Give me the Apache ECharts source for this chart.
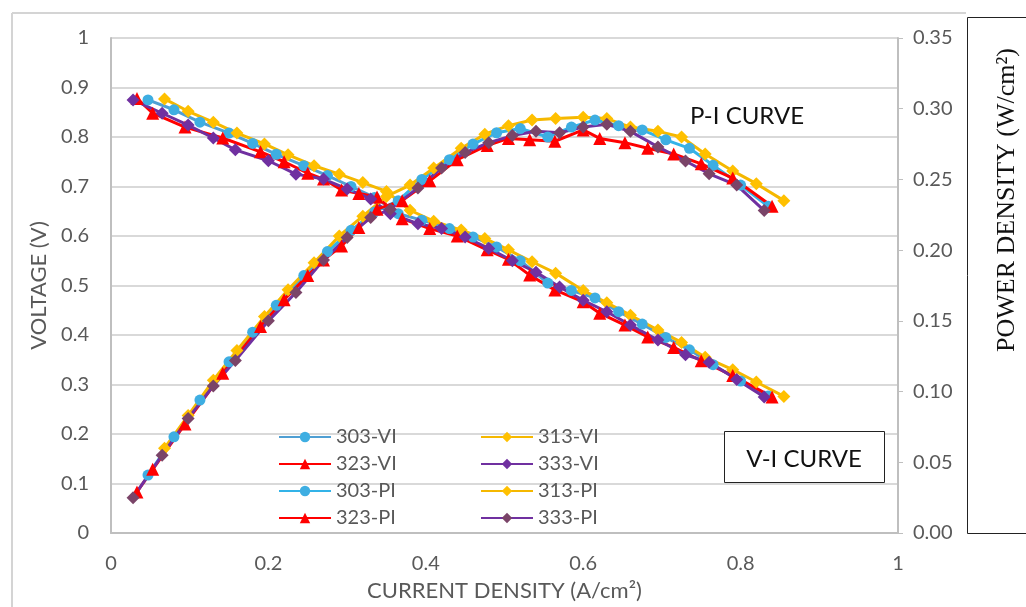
<!DOCTYPE html>
<html>
<head>
<meta charset="utf-8">
<script src="https://cdn.jsdelivr.net/npm/echarts@6/dist/echarts.min.js"></script>
<style>
  html, body { margin: 0; padding: 0; background: #fff; }
  #chart { width: 1026px; height: 607px; }
</style>
</head>
<body>
<div id="chart"></div>
<script>
// current density (A/cm2) for each temperature run
var x303 = [0.047, 0.08, 0.113, 0.15, 0.18, 0.21, 0.245, 0.275, 0.305, 0.335, 0.365, 0.395, 0.43, 0.46, 0.49, 0.52, 0.555, 0.585, 0.615, 0.645, 0.675, 0.705, 0.735, 0.765, 0.80, 0.835];
var x313 = [0.068, 0.098, 0.13, 0.16, 0.195, 0.225, 0.258, 0.29, 0.32, 0.35, 0.38, 0.41, 0.445, 0.475, 0.505, 0.535, 0.565, 0.6, 0.63, 0.66, 0.695, 0.725, 0.755, 0.79, 0.82, 0.855];
var x323 = [0.033, 0.053, 0.094, 0.142, 0.19, 0.22, 0.25, 0.27, 0.293, 0.315, 0.338, 0.37, 0.405, 0.44, 0.478, 0.505, 0.532, 0.564, 0.6, 0.621, 0.653, 0.682, 0.715, 0.75, 0.79, 0.84];
var x333 = [0.028, 0.065, 0.098, 0.13, 0.158, 0.2, 0.235, 0.27, 0.3, 0.33, 0.355, 0.39, 0.42, 0.45, 0.48, 0.51, 0.54, 0.57, 0.6, 0.63, 0.66, 0.695, 0.73, 0.76, 0.795, 0.83];

// voltage (V)
var v303 = [0.875, 0.855, 0.83, 0.808, 0.787, 0.765, 0.742, 0.722, 0.70, 0.678, 0.645, 0.632, 0.615, 0.598, 0.578, 0.55, 0.505, 0.49, 0.475, 0.447, 0.422, 0.395, 0.37, 0.34, 0.307, 0.277];
var v313 = [0.877, 0.852, 0.83, 0.808, 0.786, 0.764, 0.742, 0.725, 0.708, 0.69, 0.652, 0.63, 0.612, 0.595, 0.572, 0.548, 0.525, 0.49, 0.465, 0.44, 0.41, 0.385, 0.355, 0.33, 0.305, 0.276];
var v323 = [0.878, 0.848, 0.82, 0.798, 0.77, 0.75, 0.727, 0.715, 0.693, 0.686, 0.679, 0.635, 0.615, 0.6, 0.572, 0.553, 0.521, 0.491, 0.467, 0.444, 0.42, 0.396, 0.375, 0.348, 0.318, 0.275];
var v333 = [0.875, 0.848, 0.824, 0.798, 0.774, 0.752, 0.725, 0.715, 0.695, 0.675, 0.645, 0.625, 0.615, 0.598, 0.575, 0.55, 0.527, 0.497, 0.47, 0.447, 0.42, 0.39, 0.36, 0.345, 0.31, 0.275];

// power density (W/cm2)
var p303 = [0.041, 0.068, 0.094, 0.121, 0.142, 0.161, 0.182, 0.199, 0.214, 0.227, 0.235, 0.25, 0.264, 0.275, 0.283, 0.286, 0.280, 0.287, 0.292, 0.288, 0.285, 0.278, 0.272, 0.260, 0.246, 0.231];
var p313 = [0.06, 0.083, 0.108, 0.129, 0.153, 0.172, 0.191, 0.21, 0.224, 0.238, 0.246, 0.258, 0.272, 0.282, 0.288, 0.292, 0.293, 0.294, 0.293, 0.287, 0.284, 0.28, 0.268, 0.256, 0.247, 0.235];
var p323 = [0.029, 0.045, 0.077, 0.113, 0.146, 0.165, 0.182, 0.193, 0.203, 0.216, 0.229, 0.235, 0.249, 0.264, 0.274, 0.279, 0.278, 0.277, 0.285, 0.279, 0.276, 0.272, 0.268, 0.261, 0.251, 0.231];
var p333 = [0.025, 0.055, 0.081, 0.104, 0.122, 0.15, 0.17, 0.193, 0.209, 0.223, 0.229, 0.244, 0.258, 0.269, 0.276, 0.281, 0.284, 0.283, 0.287, 0.289, 0.284, 0.273, 0.263, 0.254, 0.246, 0.228];

var xTicks = [0, 0.2, 0.4, 0.6, 0.8, 1];

var font = "Lato, 'Open Sans', sans-serif";
var grey = "#595959";

function pairs(xs, ys) {
  return xs.map(function (x, i) { return [x, ys[i]]; });
}

function mkSeries(name, xs, ys, axis, lineColor, markColor, symbol, size) {
  return {
    name: name,
    type: "line",
    yAxisIndex: axis,
    data: pairs(xs, ys),
    symbol: symbol,
    symbolSize: size,
    lineStyle: { color: lineColor, width: 3 },
    itemStyle: { color: markColor },
    emphasis: { disabled: true },
    animation: false
  };
}

var series = [
  mkSeries("303-VI", x303, v303, 0, "#4f9fd3", "#3eaee2", "circle", 11),
  mkSeries("313-VI", x313, v313, 0, "#f5b800", "#ffc000", "diamond", 13),
  mkSeries("323-VI", x323, v323, 0, "#ff0000", "#ff0000", "triangle", 13),
  mkSeries("333-VI", x333, v333, 0, "#7030a0", "#7030a0", "diamond", 13),
  mkSeries("303-PI", x303, p303, 1, "#33b3e8", "#3eaee2", "circle", 11),
  mkSeries("313-PI", x313, p313, 1, "#f5b800", "#ffc000", "diamond", 13),
  mkSeries("323-PI", x323, p323, 1, "#ff0000", "#ff0000", "triangle", 13),
  mkSeries("333-PI", x333, p333, 1, "#7030a0", "#7a4468", "diamond", 13)
];

var legendBase = {
  orient: "vertical",
  top: 427,
  padding: 0,
  itemWidth: 52,
  itemHeight: 13,
  itemGap: 7,
  textStyle: { color: grey, fontSize: 20, lineHeight: 20, fontFamily: font }
};

var myChart = echarts.init(document.getElementById("chart"));
var option = {
  backgroundColor: "#fff",
  grid: { left: 111, right: 128, top: 38, bottom: 74 },
  legend: [
    Object.assign({ left: 278, data: ["303-VI", "323-VI", "303-PI", "323-PI"] }, legendBase),
    Object.assign({ left: 480, data: ["313-VI", "333-VI", "313-PI", "333-PI"] }, legendBase)
  ],
  xAxis: {
    type: "value",
    min: 0,
    max: 1,
    interval: 0.2,
    name: "CURRENT DENSITY (A/cm²)",
    nameLocation: "middle",
    nameGap: 47,
    nameTextStyle: { color: grey, fontSize: 22, fontFamily: font },
    axisLine: { show: true, lineStyle: { color: "#bfbfbf", width: 2 } },
    axisTick: { show: false },
    splitLine: { show: false },
    axisLabel: {
      color: grey, fontSize: 20, fontFamily: font, margin: 21,
      formatter: function (v) { return xTicks.indexOf(v) >= 0 ? String(v) : ""; }
    }
  },
  yAxis: [
    {
      type: "value",
      min: 0,
      max: 1,
      interval: 0.1,
      name: "VOLTAGE (V)",
      nameLocation: "middle",
      nameGap: 58,
      nameTextStyle: { color: grey, fontSize: 22, fontFamily: font },
      axisLine: { show: true, lineStyle: { color: "#bfbfbf", width: 2 } },
      axisTick: { show: false },
      splitLine: { show: true, lineStyle: { color: "#d9d9d9", width: 2 } },
      axisLabel: {
        color: grey, fontSize: 20, fontFamily: font, margin: 22,
        formatter: function (v) { return String(Math.round(v * 10) / 10); }
      }
    },
    {
      type: "value",
      min: 0,
      max: 0.35,
      interval: 0.05,
      position: "right",
      axisLine: { show: true, lineStyle: { color: "#bfbfbf", width: 2 } },
      axisTick: { show: true, length: 5, lineStyle: { color: "#bfbfbf", width: 1 } },
      splitLine: { show: false },
      axisLabel: {
        color: grey, fontSize: 20, fontFamily: font, margin: 15,
        formatter: function (v) { return v.toFixed(2); }
      }
    }
  ],
  graphic: [
    // outer light frame of the pasted figure
    { type: "line", shape: { x1: 12, y1: 13, x2: 966, y2: 13 }, style: { stroke: "#d4d4d4", lineWidth: 2 }, silent: true },
    { type: "line", shape: { x1: 12, y1: 13, x2: 12, y2: 607 }, style: { stroke: "#d4d4d4", lineWidth: 2 }, silent: true },
    // box around the right axis title
    { type: "rect", shape: { x: 967.5, y: 17.5, width: 80, height: 516 }, style: { fill: "#fff", stroke: "#222", lineWidth: 1 }, silent: true },
    {
      type: "text", x: 1007, y: 200, rotation: Math.PI / 2,
      style: {
        text: "POWER DENSITY (W/cm²)", fill: "#111", fontSize: 26,
        fontFamily: "'Liberation Serif', 'DejaVu Serif', serif",
        align: "center", verticalAlign: "middle"
      },
      silent: true
    },
    {
      type: "text", x: 747, y: 116,
      style: { text: "P-I CURVE", fill: "#111", fontSize: 24, fontFamily: font, align: "center", verticalAlign: "middle" },
      silent: true
    },
    { type: "rect", shape: { x: 724.5, y: 431.5, width: 160, height: 51 }, style: { fill: "#fff", stroke: "#222", lineWidth: 1 }, silent: true, z: 10 },
    {
      type: "text", x: 804, y: 459, z: 11,
      style: { text: "V-I CURVE", fill: "#111", fontSize: 24, fontFamily: font, align: "center", verticalAlign: "middle" },
      silent: true
    }
  ],
  series: series
};
myChart.setOption(option, true);
</script>
</body>
</html>
